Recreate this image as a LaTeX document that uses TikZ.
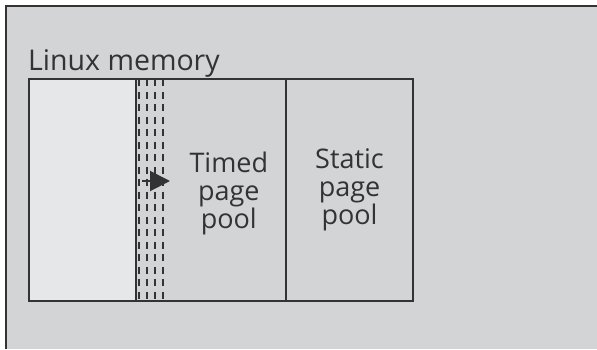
\documentclass[tikz,border=0pt]{standalone}
\usepackage{fontspec}
\setmainfont{Open Sans}
\usepackage{tikz}
\usetikzlibrary{arrows.meta, positioning}

\definecolor{panelgray}{HTML}{D3D4D6}
\definecolor{freegray}{HTML}{E6E7E9}
\definecolor{edgegray}{HTML}{333333}

\tikzset{
  pool/.style={draw=edgegray, line width=2pt, fill=panelgray, minimum height=222pt, inner sep=0pt, outer sep=0pt, anchor=north west},
  pooltext/.style={font=\fontsize{27}{28}\selectfont, align=center, text=edgegray},
  dashline/.style={edgegray, line width=1.6pt, dash pattern=on 7pt off 5.5pt},
}

\begin{document}
\begin{tikzpicture}[x=1pt, y=-1pt]
\useasboundingbox (0,0) rectangle (597,349);
% outer panel, cut off at right and bottom
\fill[panelgray] (6,6) rectangle (597,349);
\draw[edgegray, line width=2pt] (6,349) -- (6,6) -- (597,6);

\node[anchor=base west, inner sep=0pt, text=edgegray, font=\fontsize{28.5}{28}\selectfont] (title) at (28,70) {Linux memory};

\node[pool, fill=freegray, minimum width=107pt] (free) at (29,79) {};
\node[pool, minimum width=150pt] (timed) at (free.north east) {};
\node[pool, minimum width=127pt, pooltext] (static) at (timed.north east) {Static\\page\\pool};

\node[pooltext, right=50pt of free.east, anchor=west, yshift=-3pt] (timedtext) {Timed\\page\\pool};

% pages moving over
\foreach \dx in {3,11,19,27}
  \draw[dashline] ([xshift=\dx pt]free.north east) -- ([xshift=\dx pt]free.south east);
\coordinate (movefrom) at ([xshift=6pt,yshift=9pt]free.east);
\coordinate (moveto) at ([xshift=34pt,yshift=9pt]free.east);
\draw[edgegray, line width=2pt, -{Triangle[length=20pt, width=20pt]}] (movefrom) -- (moveto);
\end{tikzpicture}
\end{document}
